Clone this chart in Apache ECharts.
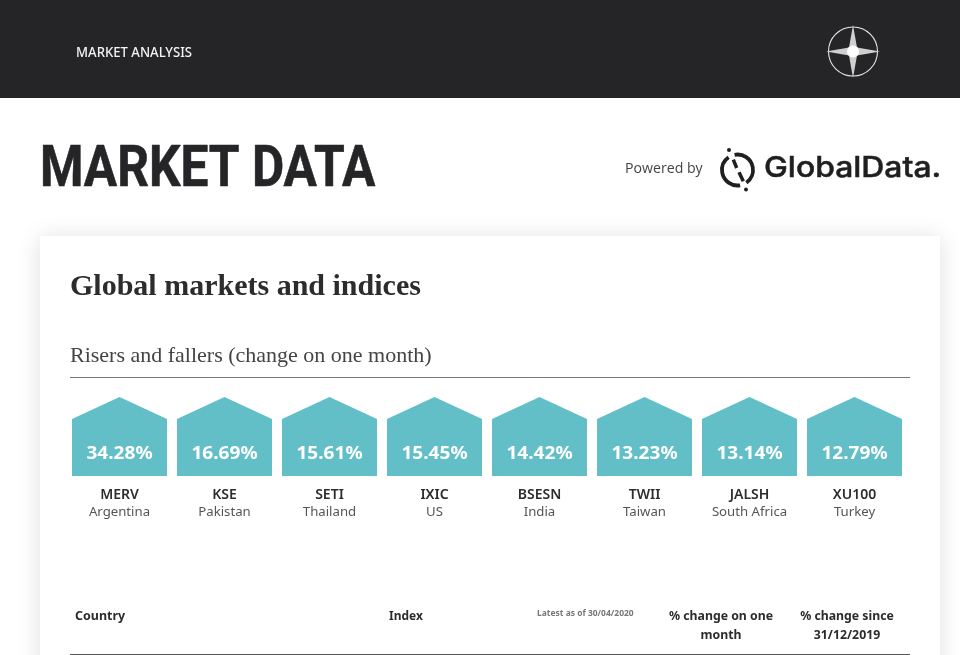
<!DOCTYPE html>
<html><head><meta charset="utf-8">
<style>html,body{margin:0;padding:0;background:#fff;overflow:hidden}#c{width:960px;height:655px}</style>
<script src="https://cdn.jsdelivr.net/npm/echarts@6/dist/echarts.min.js"></script>
</head><body><div id="c"></div>
<script>
const tickers = ['MERV','KSE','SETI','IXIC','BSESN','TWII','JALSH','XU100'];
const countries = ['Argentina','Pakistan','Thailand','US','India','Taiwan','South Africa','Turkey'];
const changes = [34.28,16.69,15.61,15.45,14.42,13.23,13.14,12.79];
const headerLabel = 'MARKET ANALYSIS';
const pageTitle = 'MARKET DATA';
const cardTitle = 'Global markets and indices';
const cardSubtitle = 'Risers and fallers (change on one month)';

const dark = '#252527', teal = '#63bfc7';
const body = '"Noto Sans",sans-serif';

function txt(x,y,text,font,fill,align,scaleX,extraStyle){
  return {type:'text',x,y,scaleX:scaleX||1,originX:0,originY:0,silent:true,
    style:Object.assign({text,font,fill,align:align||'left',verticalAlign:'middle'},extraStyle||{})};
}
const graphics = [
  {type:'rect',shape:{x:0,y:0,width:960,height:98},style:{fill:dark},silent:true},
  txt(76,53,headerLabel,'500 14.5px "Noto Sans",sans-serif','#f4f4f4','left',.905),
  {type:'circle',shape:{cx:853,cy:51.5,r:24.5},style:{fill:'none',stroke:'#e8e8e8',lineWidth:1.1},silent:true},
  {type:'polygon',shape:{points:[[853,25],[857,47.5],[880,51.5],[857,55.5],[853,78],[849,55.5],[826,51.5],[849,47.5]]},style:{fill:'#cfcfcf'},silent:true},
  {type:'circle',shape:{cx:853,cy:51.5,r:6},style:{fill:'#ffffff'},silent:true},
  txt(40,171,pageTitle,'700 58px Roboto,sans-serif',dark,'left',.855,{stroke:dark,lineWidth:.6}),
  txt(625,169,'Powered by','400 14px "Open Sans",sans-serif','#444','left',1.01),
  {type:'arc',shape:{cx:737.5,cy:170,r:15.5,startAngle:1.40,endAngle:4.10},style:{fill:'none',stroke:'#1f1f1f',lineWidth:3.8},silent:true},
  {type:'arc',shape:{cx:737.5,cy:170,r:15.5,startAngle:-1.76,endAngle:0.96},style:{fill:'none',stroke:'#1f1f1f',lineWidth:3.8},silent:true},
  {type:'line',shape:{x1:733.3,y1:159.7,x2:736.7,y2:168},style:{stroke:'#1f1f1f',lineWidth:3.5},silent:true},
  {type:'line',shape:{x1:739,y1:172.3,x2:743.3,y2:181.3},style:{stroke:'#1f1f1f',lineWidth:3.5},silent:true},
  {type:'circle',shape:{cx:729,cy:150,r:2},style:{fill:'#1f1f1f'},silent:true},
  {type:'circle',shape:{cx:746,cy:189.5,r:2},style:{fill:'#1f1f1f'},silent:true},
  txt(764,168.5,'GlobalData.','500 29px Inter,sans-serif','#1f1f1f','left',1.1,{stroke:'#1f1f1f',lineWidth:.5}),
  {type:'rect',z:-1,shape:{x:40,y:236,width:900,height:460},style:{fill:'#fff',shadowBlur:22,shadowColor:'rgba(0,0,0,.13)',shadowOffsetY:2},silent:true},
  txt(70,287,cardTitle,'700 30px "Liberation Serif",serif','#2c2c2c'),
  txt(70,356,cardSubtitle,'400 22px "Liberation Serif",serif','#444'),
  {type:'line',shape:{x1:70,y1:377.5,x2:910,y2:377.5},style:{stroke:'#777',lineWidth:1},silent:true},
  txt(75,616,'Country','700 13px '+body,'#2c2c2c','left',.96),
  txt(389,616,'Index','700 13px '+body,'#2c2c2c','left',.92),
  txt(537,613,'Latest as of 30/04/2020','700 9px '+body,'#777','left',.94),
  txt(721,616,'% change on one','700 13px '+body,'#2c2c2c','center',.945),
  txt(721,635,'month','700 13px '+body,'#2c2c2c','center',.945),
  txt(847,616,'% change since','700 13px '+body,'#2c2c2c','center',.945),
  txt(847,635,'31/12/2019','700 13px '+body,'#2c2c2c','center',.945),
  {type:'line',shape:{x1:70,y1:654.5,x2:910,y2:654.5},style:{stroke:'#555',lineWidth:1},silent:true}
];

const chart = echarts.init(document.getElementById('c'),null,{renderer:'canvas',width:960,height:655});
chart.setOption({
  animation:false,
  backgroundColor:'#fff',
  graphic:{elements:graphics},
  grid:{left:67,top:397,width:840,height:79,containLabel:false},
  xAxis:{type:'category',data:tickers,
    axisLine:{show:false},axisTick:{show:false},
    axisLabel:{interval:0,margin:11,align:'center',verticalAlign:'top',
      formatter:(v,i)=>'{a|'+v+'}\n{b|'+countries[i]+'}',
      rich:{a:{fontFamily:'Noto Sans',fontWeight:600,fontSize:14,color:'#2c2c2c',lineHeight:16},
            b:{fontFamily:'Noto Sans',fontWeight:400,fontSize:13.2,color:'#555',lineHeight:18}}}},
  yAxis:{type:'value',min:0,max:40,show:false},
  series:[{type:'custom',coordinateSystem:'cartesian2d',
    data:changes.map((v,i)=>[i,v]),
    encode:{x:0,y:1},
    renderItem:(params,api)=>{
      const cs=params.coordSys;
      const cx=api.coord([api.value(0),0])[0];
      const half=api.size([1,0])[0]/2-5;
      const top=cs.y,bot=cs.y+cs.height,sh=top+22;
      return {type:'group',children:[
        {type:'polygon',shape:{points:[[cx-half,bot],[cx-half,sh],[cx,top],[cx+half,sh],[cx+half,bot]]},style:{fill:teal}},
        {type:'text',x:cx,y:bot-22,scaleX:1.06,originX:0,style:{text:api.value(1).toFixed(2)+'%',font:'700 18px "Noto Sans",sans-serif',fill:'#fff',align:'center',verticalAlign:'middle'}}
      ]};
    }}]
});
</script></body></html>
